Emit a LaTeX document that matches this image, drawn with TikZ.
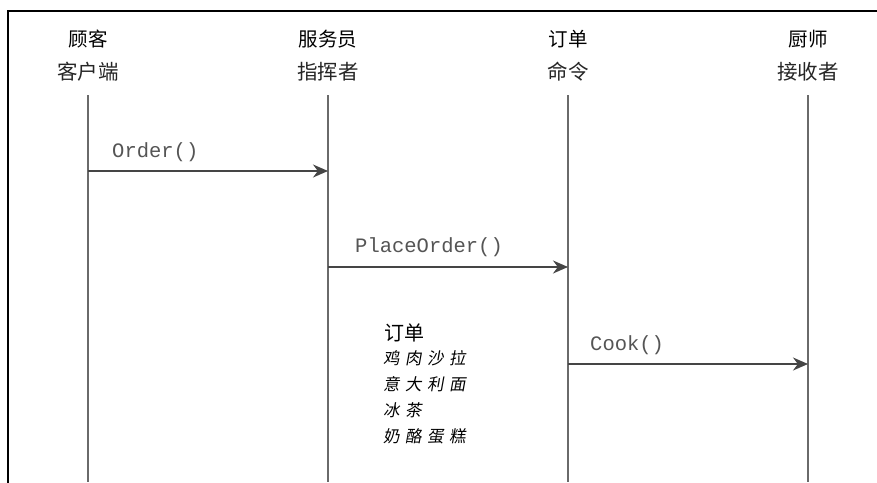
\documentclass[tikz,border=0pt]{standalone}
\usepackage{fontspec}
\setmainfont{Liberation Sans}
\setmonofont{Liberation Mono}
\newfontfamily\cjk{Noto Sans CJK SC}
\newfontfamily\cjkhand{Noto Sans CJK SC}[FakeSlant=0.18]
\usetikzlibrary{arrows.meta}
\definecolor{lifegray}{HTML}{6A6A6A}
\definecolor{arrgray}{HTML}{454545}
\definecolor{txtgray}{HTML}{555555}
\tikzset{
  head/.style={inner sep=0pt, font=\cjk\fontsize{19.5}{19.5}\selectfont, text=black},
  role/.style={inner sep=0pt, font=\cjk\fontsize{20.5}{20.5}\selectfont, text=black!85},
  life/.style={draw=lifegray, line width=1.4pt},
  msg/.style={draw=arrgray, line width=1.8pt, -{Stealth[length=15pt,width=13pt]}},
  msglabel/.style={inner sep=0pt, anchor=west, font=\ttfamily\fontsize{20.5}{20.5}\selectfont, text=txtgray},
  menutitle/.style={inner sep=0pt, anchor=west, font=\cjk\fontsize{20}{20}\selectfont},
  menuitem/.style={inner sep=0pt, anchor=west, font=\cjkhand\fontsize{16.5}{16.5}\selectfont, text=black},
}
\begin{document}
\begin{tikzpicture}[x=1pt,y=-1pt]
\useasboundingbox (0,0) rectangle (877,482);
\fill[white] (0,0) rectangle (877,482);
% frame
\draw[line width=2.2pt, line cap=rect] (8,482) -- (8,11) -- (877,11);
% headers
\node[head] (h1) at (88,39) {顾客};
\node[role] (r1) at (88,72) {客户端};
\node[head] (h2) at (328,39) {服务员};
\node[role] (r2) at (328,72) {指挥者};
\node[head] (h3) at (568,39) {订单};
\node[role] (r3) at (568,72) {命令};
\node[head] (h4) at (808,39) {厨师};
\node[role] (r4) at (808,72) {接收者};
% lifelines
\coordinate (t1) at (88,95);  \coordinate (e1) at (88,482);
\coordinate (t2) at (328,95); \coordinate (e2) at (328,482);
\coordinate (t3) at (568,95); \coordinate (e3) at (568,482);
\coordinate (t4) at (808,95); \coordinate (e4) at (808,482);
\draw[life] (t1) -- (e1);
\draw[life] (t2) -- (e2);
\draw[life] (t3) -- (e3);
\draw[life] (t4) -- (e4);
% messages
\coordinate (m1a) at (88,171);  \coordinate (m1b) at (328,171);
\coordinate (m2a) at (328,267); \coordinate (m2b) at (568,267);
\coordinate (m3a) at (568,364); \coordinate (m3b) at (808,364);
\draw[msg] (m1a) -- (m1b);
\draw[msg] (m2a) -- (m2b);
\draw[msg] (m3a) -- (m3b);
\node[msglabel] (l1) at (112,152) {Order()};
\node[msglabel] (l2) at (355,247) {PlaceOrder()};
\node[msglabel] (l3) at (590,345) {Cook()};
% order note
\node[menutitle] (mt) at (384,333) {订单};
\node[menuitem] (i1) at (383,358) {鸡\,\,肉\,\,沙\,\,拉};
\node[menuitem] (i2) at (383,384) {意\,\,大\,\,利\,\,面};
\node[menuitem] (i3) at (383,410) {冰\,\,茶};
\node[menuitem] (i4) at (383,436) {奶\,\,酪\,\,蛋\,\,糕};
\end{tikzpicture}
\end{document}
